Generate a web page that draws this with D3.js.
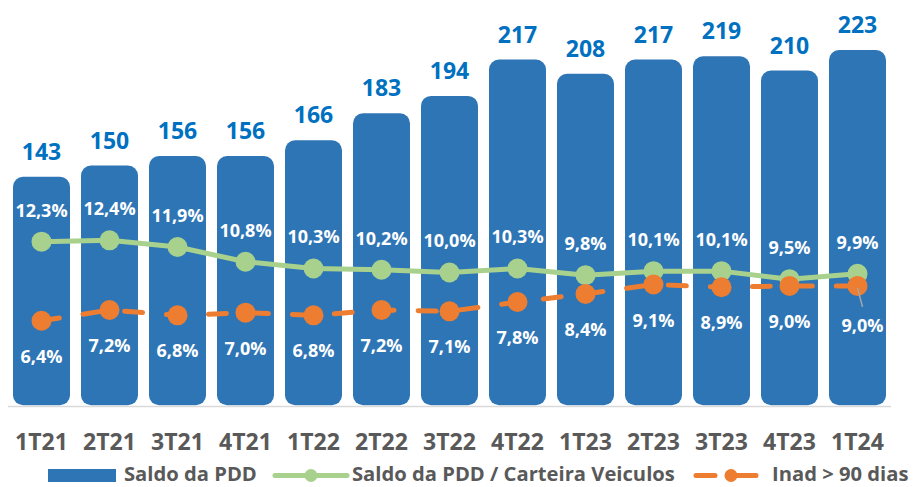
<!DOCTYPE html>
<html>
<head>
<meta charset="utf-8">
<script src="https://cdn.jsdelivr.net/npm/d3@7"></script>
<style>
  html, body { margin: 0; padding: 0; background: #ffffff; }
  svg { display: block; font-family: "Open Sans", "Noto Sans", sans-serif; }
</style>
</head>
<body>
<svg id="chart" width="915" height="487"></svg>
<script>
// Quarterly figures
const categories = ["1T21","2T21","3T21","4T21","1T22","2T22","3T22","4T22","1T23","2T23","3T23","4T23","1T24"];
const saldoPDD   = [143, 150, 156, 156, 166, 183, 194, 217, 208, 217, 219, 210, 223];
const ratioPDD   = [12.3, 12.4, 11.9, 10.8, 10.3, 10.2, 10.0, 10.3, 9.8, 10.1, 10.1, 9.5, 9.9];
const inad90     = [6.4, 7.2, 6.8, 7.0, 6.8, 7.2, 7.1, 7.8, 8.4, 9.1, 8.9, 9.0, 9.0];
const legendLabels = ["Saldo da PDD", "Saldo da PDD / Carteira Veiculos", "Inad > 90 dias"];

const COLORS = {
  bar: "#2E75B6",
  value: "#0070C0",
  green: "#A9D18E",
  orange: "#ED7D31",
  axisText: "#595959",
  axisLine: "#D9D9D9"
};

const svg = d3.select("#chart");

const x = d3.scaleBand()
  .domain(categories)
  .range([7.5, 891.5])
  .paddingInner(0.162)
  .paddingOuter(0.081);

const yBar = d3.scaleLinear().domain([0, 223]).range([403.2, 50]);
const yPct = d3.scaleLinear().domain([0, 26.6]).range([406.5, 50]);

const cx = c => x(c) + x.bandwidth() / 2;
const fmtPct = v => d3.format(".1f")(v).replace(".", ",") + "%";

// Bars with rounded corners
svg.append("g").selectAll("rect")
  .data(categories)
  .join("rect")
  .attr("x", c => x(c))
  .attr("y", (c, i) => yBar(saldoPDD[i]))
  .attr("width", x.bandwidth())
  .attr("height", (c, i) => yBar(0) + 2 - yBar(saldoPDD[i]))
  .attr("rx", 10)
  .attr("fill", COLORS.bar);

// Category axis
const xAxis = svg.append("g")
  .attr("transform", `translate(0,${406})`)
  .call(d3.axisBottom(x).tickSize(0).tickPadding(0));
xAxis.select(".domain").attr("stroke", COLORS.axisLine).attr("stroke-width", 1.5)
  .attr("d", "M8,0.5H891");
xAxis.selectAll(".tick text")
  .attr("y", 44)
  .attr("dy", null)
  .attr("fill", COLORS.axisText)
  .attr("font-size", 23)
  .attr("font-weight", 700)
  .attr("font-family", "'Open Sans', sans-serif");

// Bar value labels
svg.append("g").selectAll("text")
  .data(categories)
  .join("text")
  .attr("x", c => cx(c))
  .attr("y", (c, i) => yBar(saldoPDD[i]) - 17)
  .attr("text-anchor", "middle")
  .attr("font-size", 23)
  .attr("font-weight", 700)
  .attr("fill", COLORS.value)
  .text((c, i) => saldoPDD[i]);

// Ratio line (solid green)
const pctLine = d3.line().x((d, i) => cx(categories[i])).y(d => yPct(d));
svg.append("path")
  .datum(ratioPDD)
  .attr("d", pctLine)
  .attr("fill", "none")
  .attr("stroke", COLORS.green)
  .attr("stroke-width", 5)
  .attr("stroke-linejoin", "round");
svg.append("g").selectAll("circle")
  .data(ratioPDD)
  .join("circle")
  .attr("cx", (d, i) => cx(categories[i]))
  .attr("cy", d => yPct(d))
  .attr("r", 10)
  .attr("fill", COLORS.green);

// Delinquency line (dashed orange)
svg.append("path")
  .datum(inad90)
  .attr("d", pctLine)
  .attr("fill", "none")
  .attr("stroke", COLORS.orange)
  .attr("stroke-width", 5)
  .attr("stroke-linecap", "round")
  .attr("stroke-dasharray", "18,24");
svg.append("g").selectAll("circle")
  .data(inad90)
  .join("circle")
  .attr("cx", (d, i) => cx(categories[i]))
  .attr("cy", d => yPct(d))
  .attr("r", 10)
  .attr("fill", COLORS.orange);

// Ratio labels above points
svg.append("g").selectAll("text")
  .data(ratioPDD)
  .join("text")
  .attr("x", (d, i) => cx(categories[i]))
  .attr("y", d => yPct(d) - 25)
  .attr("text-anchor", "middle")
  .attr("font-size", 18)
  .attr("font-weight", 700)
  .attr("fill", "#ffffff")
  .text(d => fmtPct(d));

// Delinquency labels below points; the last one sits slightly off with a leader line
const last = inad90.length - 1;
svg.append("line")
  .attr("x1", cx(categories[last]))
  .attr("y1", yPct(inad90[last]) + 2)
  .attr("x2", cx(categories[last]) + 5)
  .attr("y2", yPct(inad90[last]) + 21)
  .attr("stroke", "#A6A6A6")
  .attr("stroke-width", 1.5);
svg.append("g").selectAll("text")
  .data(inad90)
  .join("text")
  .attr("x", (d, i) => cx(categories[i]) + (i === last ? 5 : 0))
  .attr("y", (d, i) => yPct(d) + (i === last ? 46 : 42))
  .attr("text-anchor", "middle")
  .attr("font-size", 18)
  .attr("font-weight", 700)
  .attr("fill", "#ffffff")
  .text(d => fmtPct(d));

// Legend
const lg = svg.append("g").attr("font-size", 20.2).attr("font-weight", 700).attr("fill", COLORS.axisText);
const ly = 475.5;
const ty = 480.5;
lg.append("rect").attr("x", 48).attr("y", ly - 6.5).attr("width", 68).attr("height", 13).attr("fill", COLORS.bar);
lg.append("text").attr("x", 124).attr("y", ty).text(legendLabels[0]);

lg.append("line").attr("x1", 275).attr("x2", 347).attr("y1", ly).attr("y2", ly)
  .attr("stroke", COLORS.green).attr("stroke-width", 5).attr("stroke-linecap", "round");
lg.append("circle").attr("cx", 311).attr("cy", ly).attr("r", 6.5).attr("fill", COLORS.green);
lg.append("text").attr("x", 352).attr("y", ty).text(legendLabels[1]);

lg.append("line").attr("x1", 696).attr("x2", 715).attr("y1", ly).attr("y2", ly)
  .attr("stroke", COLORS.orange).attr("stroke-width", 5).attr("stroke-linecap", "round");
lg.append("line").attr("x1", 733).attr("x2", 756).attr("y1", ly).attr("y2", ly)
  .attr("stroke", COLORS.orange).attr("stroke-width", 5).attr("stroke-linecap", "round");
lg.append("circle").attr("cx", 731).attr("cy", ly).attr("r", 6.5).attr("fill", COLORS.orange);
lg.append("text").attr("x", 772).attr("y", ty).text(legendLabels[2]);
</script>
</body>
</html>
